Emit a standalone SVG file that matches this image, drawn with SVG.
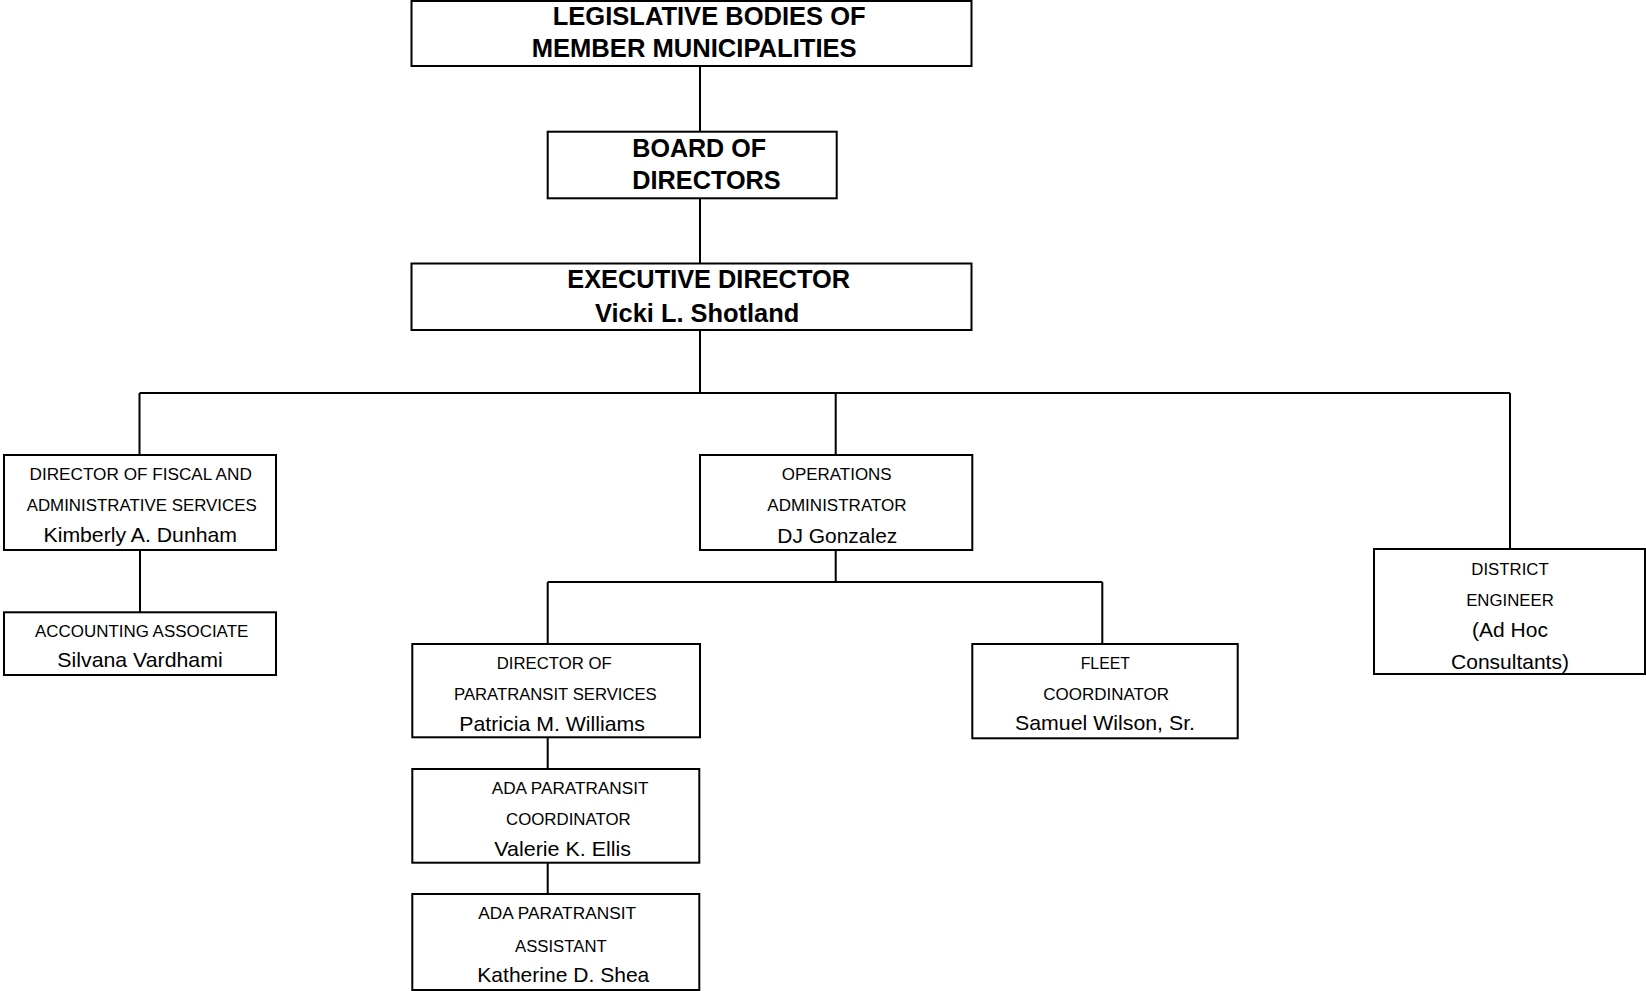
<svg xmlns="http://www.w3.org/2000/svg" width="1646" height="991" viewBox="0 0 1646 991">
<style>
.box{fill:#fff;stroke:#000;stroke-width:2}
.ln{stroke:#000;stroke-width:2;fill:none}
text{font-family:"Liberation Sans",Arial,sans-serif;fill:#000}
.h{font-weight:bold;font-size:25.3px}
.s{font-size:16.8px}
.n{font-size:21px}
.c{text-anchor:middle}
</style>
<rect width="1646" height="991" fill="#fff"/>
<g id="connectors">
<path class="ln" d="M700 66V132M700 198V264M700 330V393M139.5 393H1510M139.5 393V455M835.7 393V455M1510 393V549M835.7 550V582M547.7 582H1102.3M547.7 582V644M1102.3 582V644M140 550V612M547.7 737V769M547.7 863V894"/>
</g>
<g id="legislative">
<rect class="box" x="411.5" y="1" width="560" height="65"/>
<text class="h" x="552.7" y="25" textLength="313" lengthAdjust="spacingAndGlyphs">LEGISLATIVE BODIES OF</text>
<text class="h" x="531.7" y="57.3" textLength="325" lengthAdjust="spacingAndGlyphs">MEMBER MUNICIPALITIES</text>
</g>
<g id="board">
<rect class="box" x="547.7" y="131.7" width="289" height="66.6"/>
<text class="h" x="632.3" y="156.7" textLength="133.7" lengthAdjust="spacingAndGlyphs">BOARD OF</text>
<text class="h" x="632.3" y="189.3" textLength="148.4" lengthAdjust="spacingAndGlyphs">DIRECTORS</text>
</g>
<g id="executive">
<rect class="box" x="411.5" y="263.5" width="560" height="66.5"/>
<text class="h" x="567.3" y="288.3" textLength="282.7" lengthAdjust="spacingAndGlyphs">EXECUTIVE DIRECTOR</text>
<text class="h" x="595" y="321.7" textLength="204.3" lengthAdjust="spacingAndGlyphs">Vicki L. Shotland</text>
</g>
<g id="fiscal">
<rect class="box" x="4" y="455" width="272" height="95"/>
<text class="s" x="29.5" y="480" textLength="222.3" lengthAdjust="spacingAndGlyphs">DIRECTOR OF FISCAL AND</text>
<text class="s" x="26.7" y="510.5" textLength="230" lengthAdjust="spacingAndGlyphs">ADMINISTRATIVE SERVICES</text>
<text class="n" x="43.5" y="542" textLength="193.5" lengthAdjust="spacingAndGlyphs">Kimberly A. Dunham</text>
</g>
<g id="accounting">
<rect class="box" x="4" y="612.3" width="272" height="62.7"/>
<text class="s" x="35" y="636.7" textLength="213.3" lengthAdjust="spacingAndGlyphs">ACCOUNTING ASSOCIATE</text>
<text class="n" x="57.3" y="667.3" textLength="165.4" lengthAdjust="spacingAndGlyphs">Silvana Vardhami</text>
</g>
<g id="operations">
<rect class="box" x="700" y="455" width="272.3" height="95"/>
<text class="s" x="781.7" y="480" textLength="110" lengthAdjust="spacingAndGlyphs">OPERATIONS</text>
<text class="s" x="767.3" y="511" textLength="139.3" lengthAdjust="spacingAndGlyphs">ADMINISTRATOR</text>
<text class="n" x="777.3" y="542.7" textLength="120" lengthAdjust="spacingAndGlyphs">DJ Gonzalez</text>
</g>
<g id="district">
<rect class="box" x="1374" y="549" width="271" height="125"/>
<text class="s c" x="1510" y="574.5">DISTRICT</text>
<text class="s c" x="1510" y="606">ENGINEER</text>
<text class="n c" x="1510" y="637">(Ad Hoc</text>
<text class="n c" x="1510" y="668.5">Consultants)</text>
</g>
<g id="paratransit">
<rect class="box" x="412.3" y="644" width="287.7" height="93.3"/>
<text class="s" x="496.7" y="669.3" textLength="115" lengthAdjust="spacingAndGlyphs">DIRECTOR OF</text>
<text class="s" x="454" y="700" textLength="202.7" lengthAdjust="spacingAndGlyphs">PARATRANSIT SERVICES</text>
<text class="n" x="459.3" y="730.7" textLength="185.7" lengthAdjust="spacingAndGlyphs">Patricia M. Williams</text>
</g>
<g id="fleet">
<rect class="box" x="972.3" y="644" width="265.4" height="94.3"/>
<text class="s" x="1080.7" y="669.3" textLength="49.3" lengthAdjust="spacingAndGlyphs">FLEET</text>
<text class="s" x="1043.3" y="700" textLength="125.7" lengthAdjust="spacingAndGlyphs">COORDINATOR</text>
<text class="n" x="1015" y="730" textLength="180" lengthAdjust="spacingAndGlyphs">Samuel Wilson, Sr.</text>
</g>
<g id="ada-coordinator">
<rect class="box" x="412.3" y="769" width="287" height="93.7"/>
<text class="s" x="491.7" y="794" textLength="156.7" lengthAdjust="spacingAndGlyphs">ADA PARATRANSIT</text>
<text class="s" x="506" y="825" textLength="124.7" lengthAdjust="spacingAndGlyphs">COORDINATOR</text>
<text class="n" x="494.3" y="856" textLength="136.7" lengthAdjust="spacingAndGlyphs">Valerie K. Ellis</text>
</g>
<g id="ada-assistant">
<rect class="box" x="412.3" y="894" width="287" height="96"/>
<text class="s" x="478.3" y="918.5" textLength="157.7" lengthAdjust="spacingAndGlyphs">ADA PARATRANSIT</text>
<text class="s" x="515" y="951.7" textLength="91.7" lengthAdjust="spacingAndGlyphs">ASSISTANT</text>
<text class="n" x="477.3" y="981.7" textLength="172" lengthAdjust="spacingAndGlyphs">Katherine D. Shea</text>
</g>
</svg>
